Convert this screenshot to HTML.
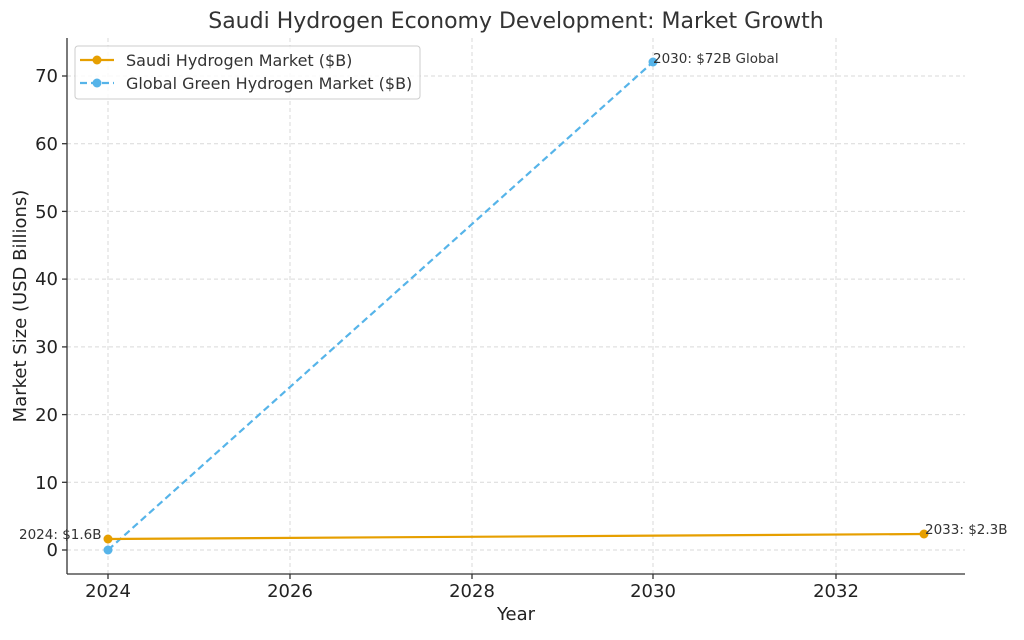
<!DOCTYPE html>
<html><head><meta charset="utf-8"><style>body{margin:0;background:#fff}</style></head><body>
<svg width="1024" height="635" xmlns="http://www.w3.org/2000/svg" font-family="DejaVu Sans, Liberation Sans, sans-serif">
<rect width="1024" height="635" fill="#fff"/>
<text x="516" y="28" font-size="22" fill="#333" text-anchor="middle">Saudi Hydrogen Economy Development: Market Growth</text>
<g stroke="#d9d9d9" stroke-dasharray="4,3" stroke-width="1">
<line x1="108" y1="38" x2="108" y2="574"/><line x1="290" y1="38" x2="290" y2="574"/><line x1="472" y1="38" x2="472" y2="574"/><line x1="653" y1="38" x2="653" y2="574"/><line x1="836" y1="38" x2="836" y2="574"/>
<line x1="67" y1="550" x2="965" y2="550"/><line x1="67" y1="482.3" x2="965" y2="482.3"/><line x1="67" y1="414.6" x2="965" y2="414.6"/><line x1="67" y1="346.9" x2="965" y2="346.9"/><line x1="67" y1="279.1" x2="965" y2="279.1"/><line x1="67" y1="211.4" x2="965" y2="211.4"/><line x1="67" y1="143.7" x2="965" y2="143.7"/><line x1="67" y1="76" x2="965" y2="76"/>
</g>
<g stroke="#333" stroke-width="1.3">
<line x1="67" y1="38" x2="67" y2="574"/><line x1="67" y1="574" x2="965" y2="574"/>
<line x1="108" y1="574" x2="108" y2="579"/><line x1="290" y1="574" x2="290" y2="579"/><line x1="472" y1="574" x2="472" y2="579"/><line x1="653" y1="574" x2="653" y2="579"/><line x1="836" y1="574" x2="836" y2="579"/>
<line x1="62" y1="550" x2="67" y2="550"/><line x1="62" y1="482.3" x2="67" y2="482.3"/><line x1="62" y1="414.6" x2="67" y2="414.6"/><line x1="62" y1="346.9" x2="67" y2="346.9"/><line x1="62" y1="279.1" x2="67" y2="279.1"/><line x1="62" y1="211.4" x2="67" y2="211.4"/><line x1="62" y1="143.7" x2="67" y2="143.7"/><line x1="62" y1="76" x2="67" y2="76"/>
</g>
<g font-size="18" fill="#222" text-anchor="middle">
<text x="108" y="597">2024</text><text x="290" y="597">2026</text><text x="472" y="597">2028</text><text x="653" y="597">2030</text><text x="836" y="597">2032</text>
</g>
<g font-size="18" fill="#222" text-anchor="end">
<text x="58" y="556">0</text><text x="58" y="489">10</text><text x="58" y="421">20</text><text x="58" y="353">30</text><text x="58" y="285">40</text><text x="58" y="218">50</text><text x="58" y="150">60</text><text x="58" y="82">70</text>
</g>
<text x="516" y="620" font-size="18" fill="#222" text-anchor="middle">Year</text>
<text transform="translate(26,306) rotate(-90)" font-size="18" fill="#222" text-anchor="middle">Market Size (USD Billions)</text>
<line x1="108" y1="550" x2="653" y2="62" stroke="#56b4e9" stroke-width="2.2" stroke-dasharray="7,4"/>
<circle cx="108" cy="550" r="4.5" fill="#56b4e9"/><circle cx="653" cy="62" r="4.5" fill="#56b4e9"/>
<line x1="108" y1="539" x2="924" y2="534" stroke="#e69f00" stroke-width="2.2"/>
<circle cx="108" cy="539" r="4.5" fill="#e69f00"/><circle cx="924" cy="534" r="4.5" fill="#e69f00"/>
<g font-size="13.5" fill="#333">
<text x="19" y="539">2024: $1.6B</text><text x="925" y="534">2033: $2.3B</text><text x="653" y="63">2030: $72B Global</text>
</g>
<rect x="75" y="46" width="345" height="53" rx="3" fill="#fff" fill-opacity="0.85" stroke="#ccc"/>
<line x1="80" y1="60" x2="114" y2="60" stroke="#e69f00" stroke-width="2.2"/><circle cx="97" cy="60" r="4.5" fill="#e69f00"/>
<line x1="80" y1="83" x2="114" y2="83" stroke="#56b4e9" stroke-width="2.2" stroke-dasharray="7,4"/><circle cx="97" cy="83" r="4.5" fill="#56b4e9"/>
<g font-size="16" fill="#333"><text x="126" y="66">Saudi Hydrogen Market ($B)</text><text x="126" y="89">Global Green Hydrogen Market ($B)</text></g>
</svg>
</body></html>
